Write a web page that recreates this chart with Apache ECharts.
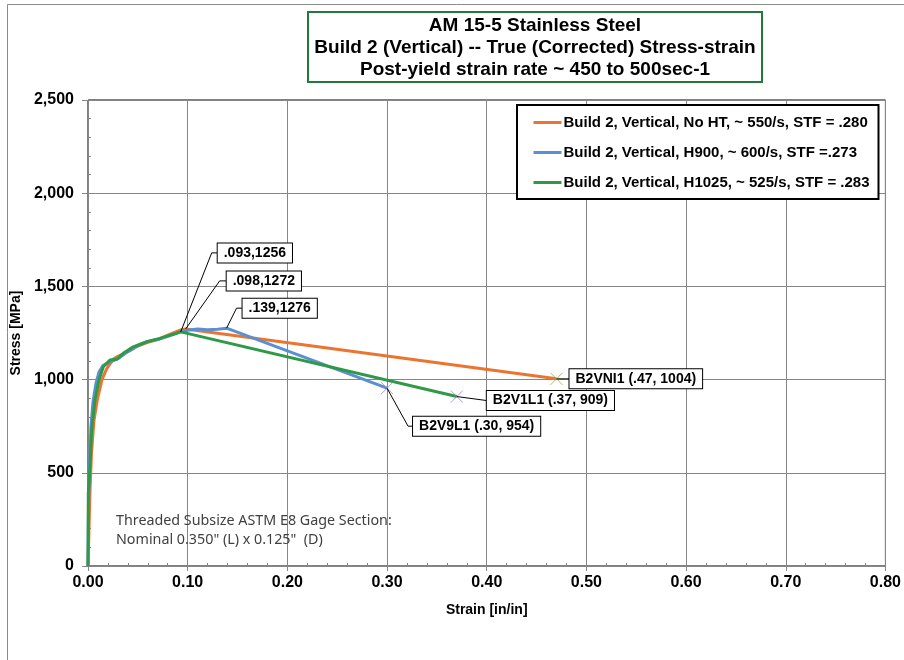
<!DOCTYPE html>
<html><head><meta charset="utf-8">
<script src="https://cdn.jsdelivr.net/npm/echarts@6/dist/echarts.min.js"></script>
<style>html,body{margin:0;padding:0;background:#fff}#c{width:904px;height:660px}</style>
</head><body><div id="c"></div>
<script>
// ---------- data ----------
const titleLines = ['AM 15-5 Stainless Steel', 'Build 2 (Vertical) -- True (Corrected) Stress-strain', 'Post-yield strain rate ~ 450 to 500sec-1'];
const seriesNames = ['Build 2, Vertical, No HT, ~ 550/s, STF = .280', 'Build 2, Vertical, H900, ~ 600/s, STF =.273', 'Build 2, Vertical, H1025, ~ 525/s, STF = .283'];
const noteLines = ['Threaded Subsize ASTM E8 Gage Section:', 'Nominal 0.350" (L) x 0.125"  (D)'];
const xAxisName = 'Strain [in/in]';
const yAxisName = 'Stress [MPa]';

const noHtStrain = [0, 0.001, 0.002, 0.0035, 0.006, 0.0093, 0.014, 0.0187, 0.0254, 0.031, 0.04, 0.05, 0.06, 0.07, 0.08, 0.088, 0.093, 0.098, 0.47];
const noHtStress = [0, 200, 400, 606, 780, 890, 1000, 1058, 1110, 1128, 1150, 1180, 1200, 1215, 1238, 1256, 1266, 1272, 1004];

const h900Strain = [0, 0.0005, 0.0015, 0.003, 0.005, 0.008, 0.011, 0.015, 0.02, 0.025, 0.03, 0.04, 0.05, 0.06, 0.07, 0.08, 0.093, 0.1, 0.11, 0.12, 0.13, 0.139, 0.30];
const h900Stress = [0, 300, 550, 750, 880, 980, 1040, 1075, 1090, 1100, 1112, 1150, 1182, 1205, 1215, 1232, 1256, 1265, 1272, 1268, 1270, 1276, 954];

const h1025Strain = [0, 0.0003, 0.002, 0.0037, 0.007, 0.011, 0.0154, 0.022, 0.0288, 0.0354, 0.0454, 0.0588, 0.072, 0.0855, 0.093, 0.37];
const h1025Stress = [0, 390, 533, 730, 890, 998, 1069, 1105, 1109, 1141, 1176, 1203, 1221, 1243, 1256, 909];

// annotation callouts: [strain, stress], text
const calloutPoints = [[0.093, 1256], [0.098, 1272], [0.139, 1276], [0.47, 1004], [0.37, 909], [0.30, 954]];
const calloutTexts = ['.093,1256', '.098,1272', '.139,1276', 'B2VNI1 (.47, 1004)', 'B2V1L1 (.37, 909)', 'B2V9L1 (.30, 954)'];

// ---------- styles ----------
const FONT = "'Liberation Sans', Arial, sans-serif";
const colors = ['#EA7530', '#5A8FD2', '#2E9A47'];
const endMarkColors = ['#9BA64E', '#9A85D2', '#9A85D2'];
// label box offsets from anchor: [boxLeftDx, boxCenterDy, elbowDx or null]
const calloutLayout = [[37, -79, 31], [41, -48, 34], [16, -20, 10], [13, 0, null], [30, 4, null], [26, 38, 21]];

const pairs = (xs, ys) => xs.map((x, i) => [x, ys[i]]);
const curves = [pairs(noHtStrain, noHtStress), pairs(h900Strain, h900Stress), pairs(h1025Strain, h1025Stress)];

const chart = echarts.init(document.getElementById('c'), null, {renderer: 'canvas'});

const gray = '#868686';
const series = curves.map((d, i) => ({
  name: seriesNames[i], type: 'line', data: d, xAxisIndex: 0, yAxisIndex: 0,
  symbol: 'none', showSymbol: false, smooth: false, z: 3,
  lineStyle: {color: colors[i], width: 3}, itemStyle: {color: colors[i]}
}));
curves.forEach((d, i) => {
  series.push({
    type: 'scatter', xAxisIndex: 0, yAxisIndex: 0, data: [d[d.length - 1]],
    symbol: 'path://M0,0L10,10M10,0L0,10', symbolSize: 12, silent: true, z: 6,
    itemStyle: {color: 'transparent', borderColor: endMarkColors[i], borderWidth: 1}
  });
});

const option = {
  animation: false,
  backgroundColor: '#fff',
  grid: {left: 88, right: 18, top: 100, bottom: 94, show: true, borderColor: '#000', borderWidth: 1, backgroundColor: 'transparent'},
  legend: {
    data: seriesNames, orient: 'vertical', left: 517, top: 105,
    itemWidth: 28, itemHeight: 14, itemGap: 15,
    padding: [10, 9, 9, 15], borderColor: '#000', borderWidth: 2, backgroundColor: '#fff',
    itemStyle: {opacity: 0},
    lineStyle: {width: 3},
    textStyle: {fontFamily: FONT, fontWeight: 'bold', fontSize: 15, color: '#000', padding: [0, 0, 0, -3]}
  },
  xAxis: [{
    type: 'value', min: 0, max: 0.8, interval: 0.1, position: 'bottom',
    name: xAxisName, nameLocation: 'middle', nameGap: 37,
    nameTextStyle: {fontFamily: FONT, fontWeight: 'bold', fontSize: 14, color: '#000'},
    axisLine: {show: true, onZero: false, lineStyle: {color: gray, width: 1}},
    axisTick: {show: true, inside: false, length: 5, lineStyle: {color: gray}},
    axisLabel: {fontFamily: FONT, fontWeight: 'bold', fontSize: 16, color: '#000', margin: 9, formatter: v => v.toFixed(2)},
    splitLine: {show: true, lineStyle: {color: gray, width: 1}}
  }, {
    type: 'value', min: 0, max: 0.8, interval: 0.02, position: 'bottom',
    axisLine: {show: false}, axisLabel: {show: false}, splitLine: {show: false},
    axisTick: {show: true, inside: true, length: 3, lineStyle: {color: gray}}
  }],
  yAxis: [{
    type: 'value', min: 0, max: 2500, interval: 500, position: 'left',
    name: yAxisName, nameLocation: 'middle', nameGap: 60, nameRotate: 90,
    nameTextStyle: {fontFamily: FONT, fontWeight: 'bold', fontSize: 14, color: '#000'},
    axisLine: {show: true, onZero: false, lineStyle: {color: gray, width: 1}},
    axisTick: {show: true, inside: false, length: 6, lineStyle: {color: gray}},
    axisLabel: {fontFamily: FONT, fontWeight: 'bold', fontSize: 16, color: '#000', margin: 14, formatter: v => v.toLocaleString('en-US')},
    splitLine: {show: true, lineStyle: {color: gray, width: 1}}
  }, {
    type: 'value', min: 0, max: 2500, interval: 100, position: 'left',
    axisLine: {show: false}, axisLabel: {show: false}, splitLine: {show: false},
    axisTick: {show: true, inside: true, length: 3, lineStyle: {color: gray}}
  }],
  series: series
};
chart.setOption(option);

// ---------- graphics: outer frame, title box, note, callouts ----------
const graphics = [];
graphics.push({type: 'rect', z: 0, silent: true, shape: {x: 7.5, y: 4.5, width: 1000, height: 1000},
  style: {fill: 'none', stroke: '#8a8a8a', lineWidth: 1}});
graphics.push({type: 'rect', z: 10, silent: true, shape: {x: 308, y: 12, width: 454, height: 70},
  style: {fill: '#fff', stroke: '#1F7A3B', lineWidth: 2}});
graphics.push({type: 'text', z: 11, silent: true, x: 535, y: 47.5,
  style: {text: titleLines.join('\n'), font: 'bold 19px ' + FONT, fill: '#000', align: 'center', verticalAlign: 'middle', lineHeight: 22}});
graphics.push({type: 'text', z: 11, silent: true, x: 116, y: 511,
  style: {text: noteLines.join('\n'), font: '14.3px "Noto Sans", "Open Sans", sans-serif', fill: '#404040', lineHeight: 19}});

calloutPoints.forEach((p, i) => {
  const a = chart.convertToPixel({xAxisIndex: 0, yAxisIndex: 0}, p);
  const L = calloutLayout[i];
  const bx = a[0] + L[0], by = a[1] + L[1];
  const pts = L[2] === null ? [a, [bx, by]] : [a, [a[0] + L[2], by], [bx, by]];
  graphics.push({type: 'polyline', z: 12, silent: true, shape: {points: pts}, style: {stroke: '#000', lineWidth: 1, fill: 'none'}});
  graphics.push({type: 'text', z: 13, silent: true, x: bx, y: by,
    style: {text: calloutTexts[i], font: 'bold 14px ' + FONT, fill: '#000', align: 'left', verticalAlign: 'middle',
      backgroundColor: '#fff', borderColor: '#000', borderWidth: 1, padding: [3, 6, 2, 6]}});
});
chart.setOption({graphic: graphics});
</script></body></html>
